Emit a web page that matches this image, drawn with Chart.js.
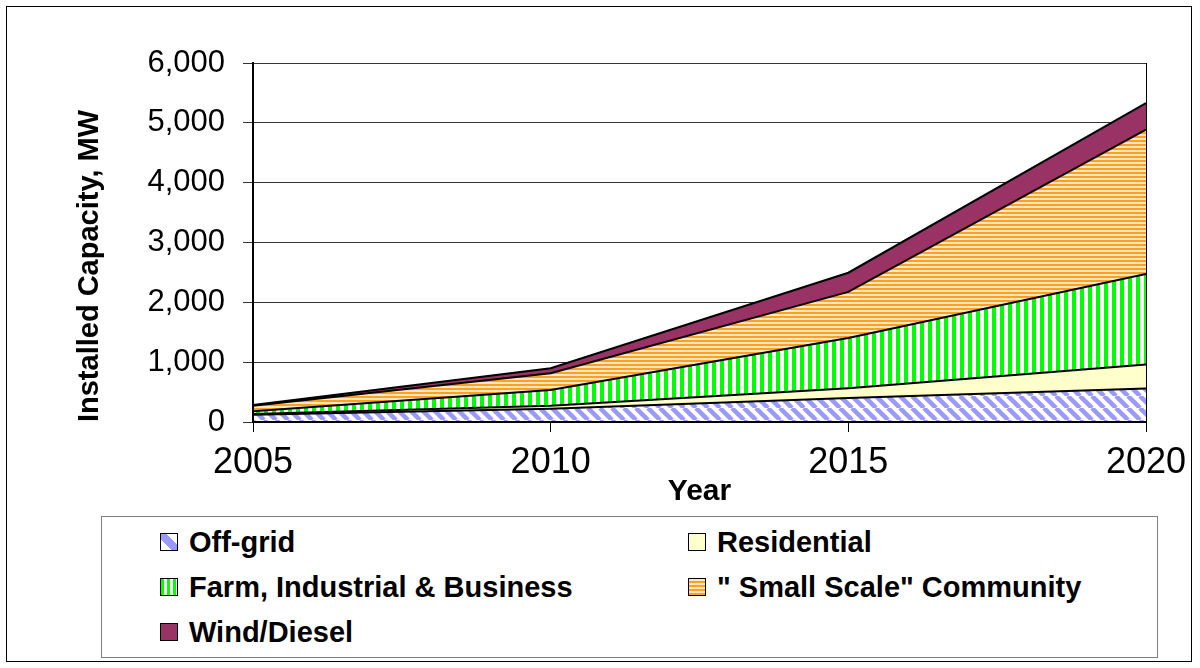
<!DOCTYPE html>
<html>
<head>
<meta charset="utf-8">
<script src="https://cdn.jsdelivr.net/npm/chart.js@4.4.1/dist/chart.umd.min.js"></script>
<style>
  body { margin: 0; background: #fff; font-family: "Liberation Sans", Arial, sans-serif; }
  #wrap { position: relative; width: 1200px; height: 668px; }
  #frame { position: absolute; left: 6px; top: 6px; width: 1184px; height: 654px; border: 1.5px solid #000; }
  #chart { position: absolute; left: 0; top: 0; }
  #legend { position: absolute; left: 101px; top: 516px; width: 1055px; height: 140px; border: 1.5px solid #808080; background: #fff; }
  .item { position: absolute; height: 34px; display: flex; align-items: center; font-weight: bold; font-size: 29px; color: #000; white-space: nowrap; }
  .sw { width: 16px; height: 16px; border: 1.5px solid #000; margin-right: 11px; flex: none; }
</style>
</head>
<body>
<div id="wrap">
  <div id="frame"></div>
  <canvas id="chart" width="1200" height="668"></canvas>
  <div id="legend"></div>
</div>
<script>
  // datos (MW por categoría, apilados)
  const years = [2005, 2010, 2015, 2020];
  const offGrid = [120, 220, 400, 560];
  const residential = [15, 50, 165, 400];
  const farmIndustrial = [45, 265, 840, 1515];
  const smallScale = [90, 280, 770, 2410];
  const windDiesel = [15, 85, 320, 445];

  const seriesNames = ['Off-grid', 'Residential', 'Farm, Industrial & Business', '" Small Scale" Community', 'Wind/Diesel'];
  const yTicks = [0, 1000, 2000, 3000, 4000, 5000, 6000];
  const yTitle = 'Installed Capacity, MW';

  const canvas = document.getElementById('chart');
  const ctx = canvas.getContext('2d');

  function makePattern(w, h, draw) {
    const tile = document.createElement('canvas');
    tile.width = w;
    tile.height = h;
    draw(tile.getContext('2d'), w, h);
    return ctx.createPattern(tile, 'repeat');
  }

  const diagBlue = makePattern(12, 12, function (g, w, h) {
    g.fillStyle = '#fff';
    g.fillRect(0, 0, w, h);
    g.strokeStyle = '#9999ff';
    g.lineWidth = 4.5;
    [-w, 0, w].forEach(function (o) {
      g.beginPath();
      g.moveTo(o, 0);
      g.lineTo(o + w, h);
      g.stroke();
    });
  });

  const vertGreen = makePattern(8, 8, function (g, w, h) {
    g.fillStyle = '#fff';
    g.fillRect(0, 0, w, h);
    g.fillStyle = '#00ff00';
    g.fillRect(0, 0, 4, h);
  });

  const horizOrange = makePattern(4, 4, function (g, w, h) {
    g.fillStyle = '#ffe6c0';
    g.fillRect(0, 0, w, h);
    g.fillStyle = '#ffa01e';
    g.fillRect(0, 0, w, 2);
  });

  function toPoints(arr) {
    return arr.map((v, i) => ({ x: years[i], y: v }));
  }

  const fills = [diagBlue, '#ffffcc', vertGreen, horizOrange, '#993366'];
  const values = [offGrid, residential, farmIndustrial, smallScale, windDiesel];

  // marco del área del gráfico, encima de las áreas, y título del eje Y
  const framePlugin = {
    id: 'framePlugin',
    afterDatasetsDraw(chart) {
      const a = chart.chartArea;
      const c = chart.ctx;
      c.save();
      c.strokeStyle = '#000';
      c.lineWidth = 1;
      c.beginPath();
      c.moveTo(a.right + 0.5, a.top);
      c.lineTo(a.right + 0.5, a.bottom);
      c.stroke();
      c.lineWidth = 2;
      c.beginPath();
      c.moveTo(a.left, a.top);
      c.lineTo(a.left, a.bottom);
      c.lineTo(a.right + 1, a.bottom);
      c.stroke();

      c.translate(90, 266);
      c.rotate(-Math.PI / 2);
      c.fillStyle = '#000';
      c.font = 'bold 29px "Liberation Sans", Arial';
      c.textAlign = 'center';
      c.textBaseline = 'middle';
      c.fillText(yTitle, 0, 0);
      c.restore();
    }
  };

  new Chart(ctx, {
    type: 'line',
    data: {
      datasets: seriesNames.map((name, i) => ({
        label: name,
        data: toPoints(values[i]),
        backgroundColor: fills[i],
        borderColor: '#000',
        borderWidth: 2,
        fill: i === 0 ? 'origin' : '-1',
        pointRadius: 0,
        tension: 0,
      })),
    },
    options: {
      responsive: false,
      animation: false,
      layout: { padding: { left: 66, right: 54, top: 63, bottom: 150 } },
      plugins: {
        legend: { display: false },
        tooltip: { enabled: false },
        filler: { propagate: false },
      },
      scales: {
        x: {
          type: 'linear',
          min: 2005,
          max: 2020,
          afterBuildTicks: (scale) => { scale.ticks = years.map((v) => ({ value: v })); },
          ticks: {
            callback: (v) => String(v),
            color: '#000',
            font: { family: '"Liberation Sans", Arial', size: 36 },
            padding: 9,
            maxRotation: 0,
          },
          grid: { drawOnChartArea: false, drawTicks: true, tickLength: 10, color: '#000', lineWidth: 1 },
          border: { display: true, color: '#000', width: 2 },
          title: {
            display: true,
            text: 'Year',
            color: '#000',
            font: { family: '"Liberation Sans", Arial', size: 30, weight: 'bold' },
            padding: { top: 0, bottom: 8 },
          },
          afterFit: (scale) => { scale.height = 96; },
        },
        y: {
          stacked: true,
          min: 0,
          max: 6000,
          afterBuildTicks: (scale) => { scale.ticks = yTicks.map((v) => ({ value: v })); },
          ticks: {
            callback: (v) => v.toLocaleString('en-US'),
            color: '#000',
            font: { family: '"Liberation Sans", Arial', size: 31 },
            padding: 18,
          },
          grid: { color: '#333', lineWidth: 1, tickLength: 10 },
          border: { display: true, color: '#000', width: 2 },
          title: { display: false },
          afterFit: (scale) => { scale.width = 187; },
        },
      },
    },
    plugins: [framePlugin],
  });

  // leyenda en dos columnas, como en el original
  const swatchCss = [
    'background: linear-gradient(45deg, #fff 33%, #9999ff 33%, #9999ff 67%, #fff 67%);',
    'background: #ffffcc;',
    'background: repeating-linear-gradient(90deg, #00ff00 0 3px, #fff 3px 6px);',
    'background: repeating-linear-gradient(0deg, #ffa01e 0 2px, #ffe6c0 2px 4px);',
    'background: #993366;',
  ];
  const legendPos = [
    [58, 8], [586, 8],
    [58, 53], [586, 53],
    [58, 98],
  ];
  const legendEl = document.getElementById('legend');
  seriesNames.forEach((name, i) => {
    const item = document.createElement('div');
    item.className = 'item';
    item.style.left = legendPos[i][0] + 'px';
    item.style.top = legendPos[i][1] + 'px';
    const sw = document.createElement('span');
    sw.className = 'sw';
    sw.style.cssText = swatchCss[i];
    const label = document.createElement('span');
    label.textContent = name;
    item.appendChild(sw);
    item.appendChild(label);
    legendEl.appendChild(item);
  });
</script>
</body>
</html>
